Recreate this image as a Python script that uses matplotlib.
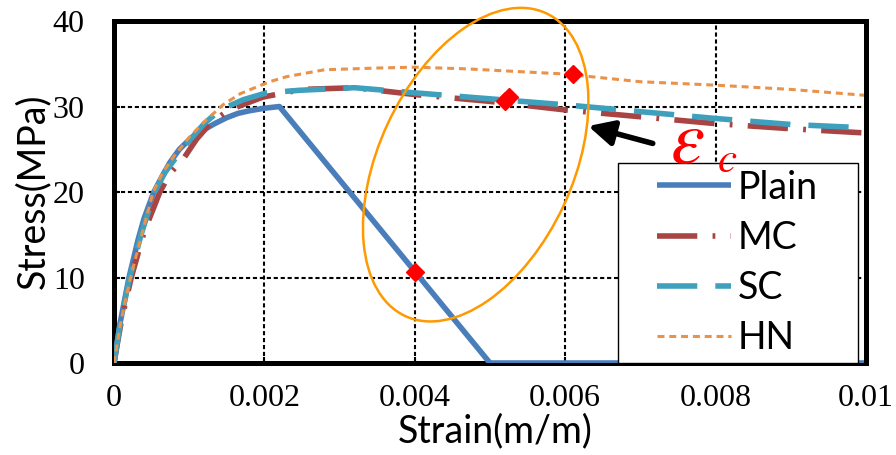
import numpy as np
import matplotlib
matplotlib.use('Agg')
import matplotlib.pyplot as plt
from matplotlib.patches import Ellipse, Rectangle
from matplotlib.transforms import ScaledTranslation

plt.rcParams['lines.scale_dashes'] = False
plt.rcParams['mathtext.fontset'] = 'stix'

# Data (strain m/m, stress MPa)
plain_x = [0, 0.00008, 0.0002, 0.00032, 0.0004, 0.00053, 0.00065, 0.00074, 0.00087, 0.001,
           0.0012, 0.00134, 0.0015, 0.00165, 0.0018, 0.002, 0.0022, 0.005, 0.01]
plain_y = [0, 4.6, 10.0, 14.4, 16.9, 20.0, 22.0, 23.4, 25.0, 26.1,
           27.3, 28.0, 28.7, 29.2, 29.5, 29.8, 30.0, 0, 0]

mc_x = [0, 0.0001, 0.00023, 0.0004, 0.00061, 0.00075, 0.00094, 0.0011, 0.0013, 0.0015,
        0.00168, 0.00198, 0.0025, 0.0032, 0.004, 0.005, 0.006, 0.007, 0.008, 0.009, 0.01]
mc_y = [0, 5.0, 10.0, 15.3, 20.0, 22.2, 24.1, 26.2, 28.2, 29.4,
        30.1, 31.1, 32.0, 32.2, 31.4, 30.6, 29.6, 28.8, 28.0, 27.4, 26.9]

sc_x = [0, 0.0001, 0.00021, 0.00036, 0.00054, 0.00068, 0.00083, 0.001, 0.0012, 0.00141,
        0.00172, 0.00203, 0.00247, 0.0032, 0.004, 0.005, 0.006, 0.007, 0.008, 0.009, 0.01]
sc_y = [0, 5.5, 10.0, 15.0, 20.0, 22.3, 24.1, 26.0, 28.0, 29.6,
        30.8, 31.6, 31.9, 32.2, 31.6, 30.9, 30.2, 29.4, 28.6, 27.9, 27.5]

hn_x = [0, 0.0001, 0.00022, 0.00037, 0.00052, 0.00065, 0.00079, 0.001, 0.0012, 0.00145,
        0.00168, 0.0019, 0.00207, 0.0023, 0.0028, 0.0035, 0.004, 0.0047, 0.006, 0.007,
        0.008, 0.009, 0.01]
hn_y = [0, 5.2, 10.0, 15.0, 20.0, 22.3, 24.1, 26.4, 28.2, 30.2,
        31.5, 32.3, 32.9, 33.5, 34.3, 34.5, 34.6, 34.4, 33.8, 32.9,
        32.5, 32.0, 31.3]

# peak-strain markers (red diamonds)
ec_x = [0.004, 0.0052, 0.00525, 0.0061]
ec_y = [10.7, 30.6, 31.1, 33.8]

xticks = [0, 0.002, 0.004, 0.006, 0.008, 0.01]
xtick_labels = ['0', '0.002', '0.004', '0.006', '0.008', '0.01']
yticks = [0, 10, 20, 30, 40]

fig = plt.figure(figsize=(8.96, 4.55), dpi=100)
ax = fig.add_axes([0.1272, 0.2022, 0.8393, 0.7516])

ax.plot(plain_x, plain_y, color='#4A7EBB', lw=4, solid_capstyle='butt', label='Plain', zorder=3)
ax.plot(mc_x, mc_y, color='#A84443', lw=4, dashes=(29, 11, 2, 11), label='MC', zorder=3)
ax.plot(sc_x, sc_y, color='#3FA0BE', lw=4, dashes=(29, 13), label='SC', zorder=3)
ax.plot(hn_x, hn_y, color='#E8924A', lw=2.2, dashes=(5, 3.5), label='HN', zorder=3)

ax.plot(ec_x, ec_y, 'D', color='red', ms=9, mec='red', zorder=5)

ax.set_xlim(0, 0.01)
ax.set_ylim(0, 40)
ax.set_xticks(xticks)
ax.set_xticklabels(xtick_labels)
ax.set_yticks(yticks)
ax.grid(True, color='black', linestyle=(0, (3, 2)), lw=1.5)
for s in ax.spines.values():
    s.set_linewidth(3.6)
ax.spines['right'].set_zorder(9)
ax.tick_params(direction='in', length=4, width=1.5)
ax.tick_params(axis='x', pad=15)
ax.tick_params(axis='y', pad=21)
for lab in ax.get_xticklabels() + ax.get_yticklabels():
    lab.set_fontfamily('Liberation Serif')
    lab.set_fontsize(23)

ax.set_xlabel('Strain(m/m)', fontsize=27, family='Lato')
ax.set_ylabel('Stress(MPa)', fontsize=27, family='Lato')
ax.xaxis.set_label_coords(0.507, -0.148)
ax.yaxis.set_label_coords(-0.083, 0.503)

# orange ellipse around the peak-strain points (sizes in inches, centre in data)
ell = Ellipse((0, 0), width=3.34, height=1.94, angle=65,
              transform=fig.dpi_scale_trans + ScaledTranslation(0.00481, 23.2, ax.transData),
              fill=False, edgecolor='#FF9900', lw=1.8, clip_on=False, zorder=6)
ax.add_patch(ell)

ax.annotate('', xy=(0.00627, 27.8), xytext=(0.0072, 25.6),
            arrowprops=dict(arrowstyle='-|>', color='black', lw=4, mutation_scale=38),
            zorder=6)
ax.text(0.00762, 25.8, r'$\varepsilon$', color='red', fontsize=55, ha='center', va='center', zorder=10)
ax.text(0.00815, 23.8, r'$c$', color='red', fontsize=31, ha='center', va='center', zorder=10)

# legend with a white box drawn in axes fraction
box = Rectangle((0.670, 0.0), 0.319, 0.585, transform=ax.transAxes, facecolor='white',
                edgecolor='black', lw=1.0, zorder=7, clip_on=False)
ax.add_patch(box)
leg = ax.legend(loc='center', bbox_to_anchor=(0.670, 0.0, 0.319, 0.585),
                prop={'family': 'Lato', 'size': 27}, frameon=False,
                handlelength=1.95, handletextpad=0.2, labelspacing=0.38, borderpad=0.1)
leg.set_zorder(8)

fig.savefig('out.png', dpi=100)
